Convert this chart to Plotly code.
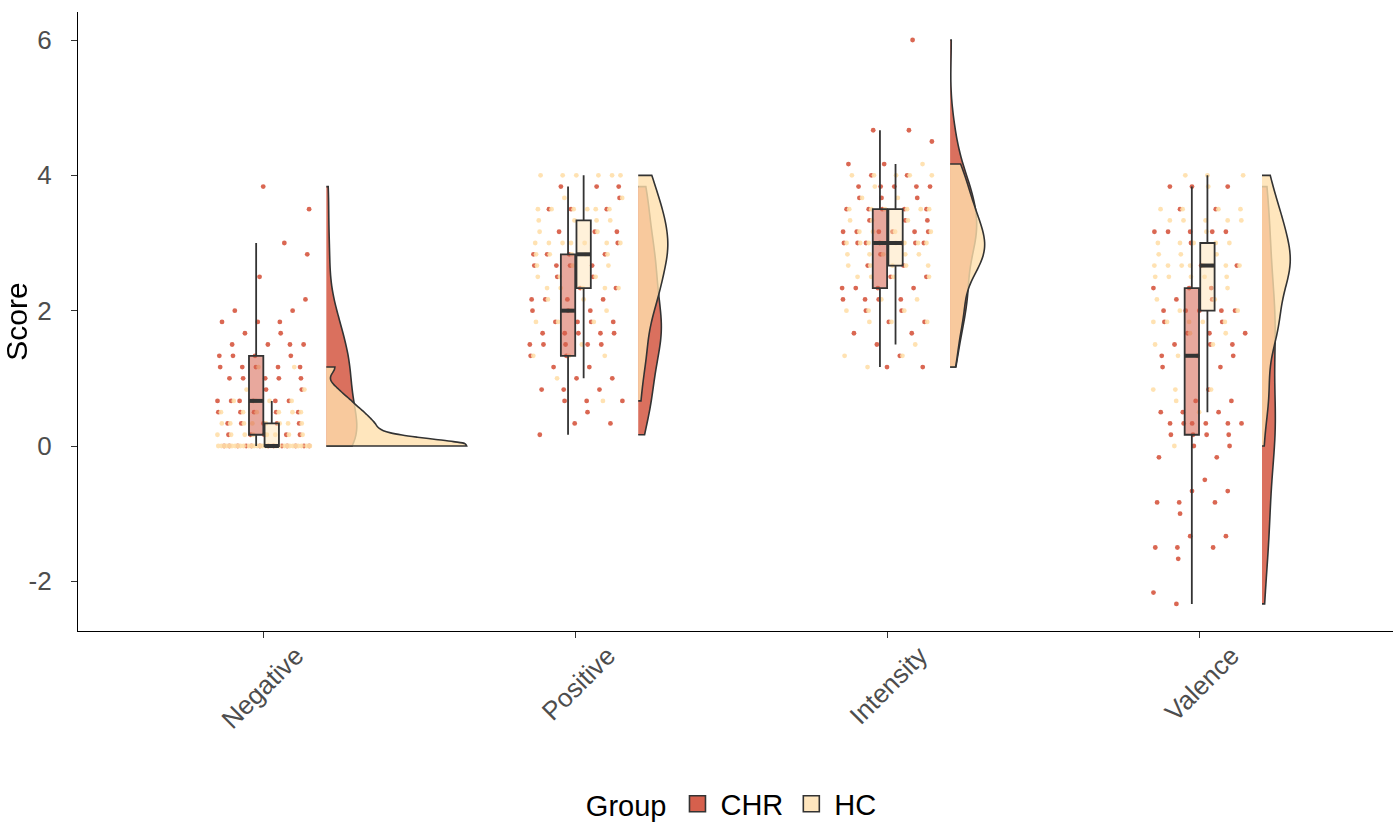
import numpy as np
import plotly.graph_objects as go

# ---------------- data (scores, stored in sixths of a point) ----------------
CATEGORIES = ["Negative", "Positive", "Intensity", "Valence"]
GROUPS = ["CHR", "HC"]

NEG_CHR_LEVELS = [0, 1, 2, 3, 4, 5, 6, 7, 8, 9, 10, 11, 12, 13, 15, 17, 18, 21, 23]
NEG_CHR_COUNTS = [13, 5, 5, 5, 6, 2, 5, 5, 4, 4, 2, 3, 2, 1, 1, 1, 1, 1, 1]
NEG_HC_LEVELS = [0, 1, 2, 3, 4, 5, 7]
NEG_HC_COUNTS = [31, 8, 8, 6, 4, 2, 2]

POS_CHR_LEVELS = [1, 2, 3, 4, 5, 6, 7, 8, 9, 10, 11, 12, 13, 14, 15, 16, 17, 18, 19, 21, 22, 23]
POS_CHR_COUNTS = [1, 2, 1, 3, 3, 2, 2, 2, 5, 5, 4, 3, 4, 2, 2, 4, 4, 1, 3, 3, 1, 3]
POS_HC_LEVELS = [4, 6, 8, 9, 11, 12, 13, 14, 15, 16, 17, 18, 19, 20, 21, 22, 24]
POS_HC_COUNTS = [1, 1, 3, 1, 3, 2, 2, 5, 3, 3, 5, 7, 2, 4, 6, 2, 6]

INT_CHR_LEVELS = [7, 8, 9, 10, 11, 12, 13, 14, 15, 16, 17, 18, 19, 20, 21, 22, 23, 24, 25, 27, 28, 36]
INT_CHR_COUNTS = [2, 1, 1, 2, 2, 2, 4, 4, 2, 2, 1, 7, 6, 3, 5, 3, 5, 2, 2, 1, 2, 1]
INT_HC_LEVELS = [7, 8, 9, 11, 12, 13, 15, 16, 17, 18, 19, 20, 21, 22, 23, 24, 25]
INT_HC_COUNTS = [1, 2, 1, 3, 3, 2, 4, 5, 5, 8, 4, 3, 6, 2, 1, 5, 1]

VAL_CHR_LEVELS = [-14, -13, -10, -9, -8, -6, -5, -4, -3, -1, 0, 1, 2, 3, 4, 5, 7, 8, 9, 10,
                  11, 12, 13, 14, 16, 18, 19, 21, 23]
VAL_CHR_COUNTS = [1, 1, 1, 3, 2, 1, 3, 2, 1, 2, 2, 4, 6, 3, 2, 1, 2, 3, 3, 3,
                  2, 5, 2, 3, 2, 1, 5, 2, 3]
VAL_HC_LEVELS = [0, 3, 4, 5, 8, 9, 10, 11, 12, 13, 14, 15, 16, 17, 18, 19, 20, 21, 23, 24]
VAL_HC_COUNTS = [1, 1, 1, 3, 1, 2, 2, 5, 2, 2, 1, 5, 8, 3, 5, 1, 5, 4, 1, 3]

# box-plot statistics (sixths), order = CATEGORIES
CHR_LOW = [0, 1, 7, -14]
CHR_Q1 = [1, 8, 14, 1]
CHR_MED = [4, 12, 18, 8]
CHR_Q3 = [8, 17, 21, 14]
CHR_HIGH = [18, 23, 28, 23]
HC_LOW = [0, 6, 9, 3]
HC_Q1 = [0, 14, 16, 12]
HC_MED = [0, 17, 18, 16]
HC_Q3 = [2, 20, 21, 18]
HC_HIGH = [4, 24, 25, 24]

# ---------------- styling ----------------
FONT = "Liberation Sans, Arial, sans-serif"
CHR_POINT = "#D6563F"
HC_POINT = "#FFDFAA"
CHR_BOX = "rgba(214,96,77,0.55)"
HC_BOX = "rgba(255,224,172,0.45)"
CHR_VIOL = "rgba(214,96,77,0.9)"
HC_VIOL = "rgba(255,224,172,0.8)"
CHR_KEY = "#D6604D"
HC_KEY = "#FFE6BE"
DARK = "#333333"

JIT = 0.15
BOX_OFF = 0.025
BOX_W = 0.046
VIOL_OFF = 0.2
VIOL_W = 0.9


def expand(levels, counts):
    return np.repeat(np.asarray(levels, dtype=float) / 6.0, counts)


def sixths(a):
    return [v / 6.0 for v in a]


def jitter(levels, counts, phase):
    """deterministic, evenly spread horizontal offsets within +-JIT for each score level"""
    out = []
    for lv, c in zip(levels, counts):
        j = np.arange(c)
        out.append(((j * 0.6180339887 + lv * 0.7548776662 + phase) % 1.0 - 0.5) * 2 * JIT)
    return np.concatenate(out)


def nrd0(x):
    n = len(x)
    sd = np.std(x, ddof=1)
    q75, q25 = np.percentile(x, [75, 25])
    lo = min(sd, (q75 - q25) / 1.34) if q75 > q25 else sd
    return 0.9 * lo * n ** (-0.2)


def kde_max(x, bw):
    grid = np.linspace(x.min(), x.max(), 600)
    z = (grid[:, None] - x[None, :]) / bw
    dens = np.exp(-0.5 * z * z).sum(axis=1) / (len(x) * bw * np.sqrt(2 * np.pi))
    return dens.max()


LEVELS = {
    "CHR": [(NEG_CHR_LEVELS, NEG_CHR_COUNTS), (POS_CHR_LEVELS, POS_CHR_COUNTS),
            (INT_CHR_LEVELS, INT_CHR_COUNTS), (VAL_CHR_LEVELS, VAL_CHR_COUNTS)],
    "HC": [(NEG_HC_LEVELS, NEG_HC_COUNTS), (POS_HC_LEVELS, POS_HC_COUNTS),
           (INT_HC_LEVELS, INT_HC_COUNTS), (VAL_HC_LEVELS, VAL_HC_COUNTS)],
}
data = {g: [expand(lv, ct) for lv, ct in LEVELS[g]] for g in GROUPS}
point_col = {"CHR": CHR_POINT, "HC": HC_POINT}
viol_col = {"CHR": CHR_VIOL, "HC": HC_VIOL}

# area-preserving scaling (as ggplot's scale = "area"): width proportional to peak density
bws = {g: [nrd0(v) for v in data[g]] for g in GROUPS}
peaks = {g: [kde_max(v, b) for v, b in zip(data[g], bws[g])] for g in GROUPS}
global_peak = max(max(peaks[g]) for g in GROUPS)

fig = go.Figure()

# ---- violins (main axes) ----
for g in GROUPS:
    for ci, cat in enumerate(CATEGORIES):
        vals = data[g][ci]
        fig.add_trace(go.Violin(
            x0=ci + 1 + VIOL_OFF, y=vals, side="positive",
            width=VIOL_W * peaks[g][ci] / global_peak,
            scalemode="width", spanmode="hard",
            bandwidth=bws[g][ci], fillcolor=viol_col[g],
            line=dict(color=DARK, width=1.6), points=False,
            box_visible=False, meanline_visible=False,
            showlegend=False, hoverinfo="skip", name=f"{g} {cat}",
        ))

# ---- jittered points (main axes) ----
for gi, g in enumerate(GROUPS):
    xs, ys = [], []
    for ci in range(len(CATEGORIES)):
        lv, ct = LEVELS[g][ci]
        xs.append(ci + 1 + jitter(lv, ct, 0.13 + 0.41 * gi + 0.23 * ci))
        ys.append(data[g][ci])
    fig.add_trace(go.Scatter(
        x=np.concatenate(xs), y=np.concatenate(ys), mode="markers",
        marker=dict(color=point_col[g], size=4.8, line=dict(width=0)),
        opacity=0.9,
        showlegend=False, hoverinfo="skip", name=g,
    ))

# ---- legend keys ----
for g, col in (("CHR", CHR_KEY), ("HC", HC_KEY)):
    fig.add_trace(go.Scatter(
        x=[None], y=[None], mode="markers", name=g,
        marker=dict(symbol="square", size=16, color=col, line=dict(color=DARK, width=1.6)),
        showlegend=True, legendgroup=g,
    ))

# ---- boxes (overlay axes so they sit above the points) ----
box_spec = {
    "CHR": (CHR_LOW, CHR_Q1, CHR_MED, CHR_Q3, CHR_HIGH, -BOX_OFF, CHR_BOX),
    "HC": (HC_LOW, HC_Q1, HC_MED, HC_Q3, HC_HIGH, BOX_OFF, HC_BOX),
}
for g in GROUPS:
    lo, q1, med, q3, hi, off, fc = box_spec[g]
    pos = [i + 1 + off for i in range(len(CATEGORIES))]
    fig.add_trace(go.Box(
        x=pos, q1=sixths(q1), median=sixths(med), q3=sixths(q3),
        lowerfence=sixths(lo), upperfence=sixths(hi),
        width=BOX_W, whiskerwidth=0, fillcolor=fc,
        line=dict(color=DARK, width=1.8), boxpoints=False,
        name=g, legendgroup=g, showlegend=False, hoverinfo="skip",
        xaxis="x2", yaxis="y2",
    ))
for g in GROUPS:
    lo, q1, med, q3, hi, off, fc = box_spec[g]
    mx, my = [], []
    for i, m in enumerate(sixths(med)):
        p = i + 1 + off
        mx += [p - BOX_W / 2, p + BOX_W / 2, None]
        my += [m, m, None]
    fig.add_trace(go.Scatter(
        x=mx, y=my, mode="lines", line=dict(color=DARK, width=4),
        showlegend=False, hoverinfo="skip", xaxis="x2", yaxis="y2",
    ))

XR = [0.4038, 4.62]
YR = [-2.734, 6.414]

fig.update_layout(
    width=1395, height=827,
    margin=dict(l=78, r=2, t=12, b=196, autoexpand=False),
    paper_bgcolor="white", plot_bgcolor="white",
    font=dict(family=FONT, color="black"),
    boxmode="overlay", violinmode="overlay",
    showlegend=True,
    legend=dict(
        orientation="h", x=0.498, xanchor="center", y=0.028, yanchor="middle",
        yref="container",
        title=dict(text="Group", side="left", font=dict(size=29, color="black")),
        font=dict(size=29, color="black"), traceorder="normal",
        itemwidth=36, itemsizing="trace",
    ),
    xaxis=dict(
        range=XR, tickvals=[1, 2, 3, 4], ticktext=CATEGORIES, tickangle=-45,
        ticks="outside", ticklen=6, tickwidth=1.2, tickcolor=DARK,
        showline=True, linecolor="black", linewidth=1.4,
        showgrid=False, zeroline=False, automargin=False,
        ticklabelshift=32, ticklabelstandoff=-8,
        tickfont=dict(size=26, color="#4D4D4D", family=FONT),
    ),
    yaxis=dict(
        range=YR, tickvals=[-2, 0, 2, 4, 6], ticktext=["-2", "0", "2", "4", "6"],
        ticks="outside", ticklen=6, tickwidth=1.2, tickcolor=DARK,
        showline=True, linecolor="black", linewidth=1.4,
        showgrid=False, zeroline=False, automargin=False, ticklabelstandoff=14,
        tickfont=dict(size=26, color="#4D4D4D", family=FONT),
        title=dict(text="Score", font=dict(size=30, color="black", family=FONT), standoff=8),
    ),
    xaxis2=dict(range=XR, overlaying="x", anchor="y2", visible=False),
    yaxis2=dict(range=YR, overlaying="y", anchor="x2", visible=False),
)

fig.write_html("out.html", config={"displayModeBar": False},
               post_script="document.body.style.margin='0';")
